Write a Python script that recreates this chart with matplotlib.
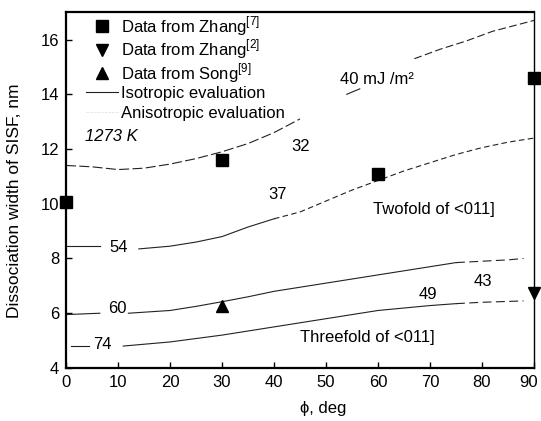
import numpy as np
import matplotlib
matplotlib.use('Agg')
import matplotlib.pyplot as plt
import matplotlib.transforms as mtransforms
from matplotlib.lines import Line2D

plt.rcParams['font.family'] = ['Liberation Sans', 'DejaVu Sans']
plt.rcParams['mathtext.fontset'] = 'custom'
plt.rcParams['mathtext.rm'] = 'Liberation Sans'

# measured points
zhang7_x = [0, 30, 60, 90]
zhang7_y = [10.05, 11.6, 11.1, 14.6]
zhang2_x = [90]
zhang2_y = [6.75]
song_x = [30]
song_y = [6.25]

# 40 mJ/m2 curve (broken around its label)
c40_a_x = [0, 5, 10, 15, 20, 25, 30, 35, 40, 45]
c40_a_y = [11.4, 11.35, 11.25, 11.3, 11.45, 11.65, 11.9, 12.2, 12.6, 13.1]
c40_b_x = [54, 56.5]
c40_b_y = [14.0, 14.2]
c40_c_x = [67, 72, 77, 82, 87, 90]
c40_c_y = [15.3, 15.65, 15.95, 16.3, 16.55, 16.7]

# 54 curve
c54_a_x = [0, 6.5]
c54_a_y = [8.45, 8.45]
c54_b_x = [14, 20, 25, 30, 35, 40, 45, 50, 55, 60, 65, 70, 75, 80, 85, 90]
c54_b_y = [8.35, 8.45, 8.6, 8.8, 9.15, 9.45, 9.7, 10.1, 10.5, 10.85, 11.2, 11.5, 11.8, 12.05, 12.25, 12.4]

# 60 curve
c60_a_x = [0, 6.5]
c60_a_y = [5.95, 6.0]
c60_b_x = [12, 20, 25, 30, 35, 40, 45, 50, 55, 60, 65, 70, 75, 80, 85, 88]
c60_b_y = [6.0, 6.1, 6.25, 6.42, 6.6, 6.8, 6.95, 7.1, 7.25, 7.4, 7.55, 7.7, 7.85, 7.9, 7.95, 8.0]

# 74 curve
c74_a_x = [1, 4.5]
c74_a_y = [4.8, 4.8]
c74_b_x = [11, 20, 30, 40, 50, 60, 70, 75, 80, 88]
c74_b_y = [4.8, 4.95, 5.2, 5.5, 5.8, 6.1, 6.28, 6.35, 6.4, 6.45]

fig = plt.figure(figsize=(5.41, 4.21), dpi=100)
ax = fig.add_axes([0.122, 0.126, 0.865, 0.845])

lw = 0.8
col = '#222222'


def draw_split(x, y, xs, dashes):
    # solid up to xs, dashed beyond
    x = np.asarray(x, dtype=float)
    y = np.asarray(y, dtype=float)
    m1 = x <= xs
    m2 = x >= xs
    ax.plot(x[m1], y[m1], '-', color=col, lw=lw)
    ax.plot(x[m2], y[m2], '-', color=col, lw=lw, dashes=dashes)


ax.plot(c40_a_x, c40_a_y, color=col, lw=lw, dashes=(9, 3))
ax.plot(c40_b_x, c40_b_y, color=col, lw=lw)
ax.plot(c40_c_x, c40_c_y, color=col, lw=lw, dashes=(7, 3))

ax.plot(c54_a_x, c54_a_y, color=col, lw=lw)
draw_split(c54_b_x, c54_b_y, 40, (5, 3))
ax.plot(c60_a_x, c60_a_y, color=col, lw=lw)
draw_split(c60_b_x, c60_b_y, 75, (8, 4))
ax.plot(c74_a_x, c74_a_y, color=col, lw=lw)
draw_split(c74_b_x, c74_b_y, 75, (8, 4))

ax.plot(zhang7_x, zhang7_y, 's', color='black', ms=8.5, clip_on=False, zorder=5)
ax.plot(zhang2_x, zhang2_y, 'v', color='black', ms=9, clip_on=False, zorder=5)
ax.plot(song_x, song_y, '^', color='black', ms=9, clip_on=False, zorder=5)

fs = 12
ax.text(3.6, 12.45, '1273 K', fontsize=fs, style='italic', va='center', ha='left')
ax.text(52.7, 14.55, '40 mJ /m²', fontsize=fs, va='center', ha='left')
ax.text(45.2, 12.1, '32', fontsize=fs, va='center', ha='center')
ax.text(40.6, 10.33, '37', fontsize=fs, va='center', ha='center')
ax.text(10.2, 8.4, '54', fontsize=fs, va='center', ha='center')
ax.text(9.8, 6.16, '60', fontsize=fs, va='center', ha='center')
ax.text(6.9, 4.85, '74', fontsize=fs, va='center', ha='center')
ax.text(69.6, 6.7, '49', fontsize=fs, va='center', ha='center')
ax.text(80.2, 7.15, '43', fontsize=fs, va='center', ha='center')
ax.text(70.7, 9.8, 'Twofold of <011]', fontsize=fs, va='center', ha='center')
ax.text(58.0, 5.1, 'Threefold of <011]', fontsize=fs, va='center', ha='center')

# legend split in two so the line rows get their own spacing
data_handles = [
    Line2D([], [], marker='s', ls='none', color='black', ms=8),
    Line2D([], [], marker='v', ls='none', color='black', ms=9),
    Line2D([], [], marker='^', ls='none', color='black', ms=9),
]
data_labels = [
    r'Data from Zhang$^{[7]}$',
    r'Data from Zhang$^{[2]}$',
    r'Data from Song$^{[9]}$',
]
line_handles = [
    Line2D([], [], ls='-', color=col, lw=lw),
    Line2D([], [], ls='--', color='#dddddd', lw=0.5),
]
line_labels = ['Isotropic evaluation', 'Anisotropic evaluation']

leg1 = ax.legend(data_handles, data_labels, loc='upper left',
                 bbox_to_anchor=(0.043, 0.995), frameon=False, fontsize=fs,
                 handlelength=1.9, handletextpad=0.2, labelspacing=0.0,
                 borderpad=0, borderaxespad=0)
ax.add_artist(leg1)
ax.legend(line_handles, line_labels, loc='upper left',
          bbox_to_anchor=(0.043, 0.793), frameon=False, fontsize=fs,
          handlelength=1.9, handletextpad=0.2, labelspacing=0.28,
          borderpad=0, borderaxespad=0)

ax.set_xlim(0, 90)
ax.set_ylim(4, 17)
ax.set_xticks(np.arange(0, 91, 10))
ax.set_yticks(np.arange(4, 17, 2))
ax.tick_params(direction='in', length=4, width=1, labelsize=fs, pad=5)

# pull the last x tick label in a little so it stays inside the figure
last = ax.get_xticklabels()[-1]
last.set_transform(last.get_transform() +
                   mtransforms.ScaledTranslation(-5 / 100, 0, fig.dpi_scale_trans))

for s in ['left', 'bottom', 'top']:
    ax.spines[s].set_linewidth(1.6)
ax.spines['right'].set_linewidth(1.0)

ax.set_xlabel('ϕ, deg', fontsize=fs)
ax.set_ylabel('Dissociation width of SISF, nm', fontsize=12.5)
ax.xaxis.set_label_coords(0.55, -0.092)
ax.yaxis.set_label_coords(-0.094, 0.47)

fig.savefig('out.png', dpi=100)
